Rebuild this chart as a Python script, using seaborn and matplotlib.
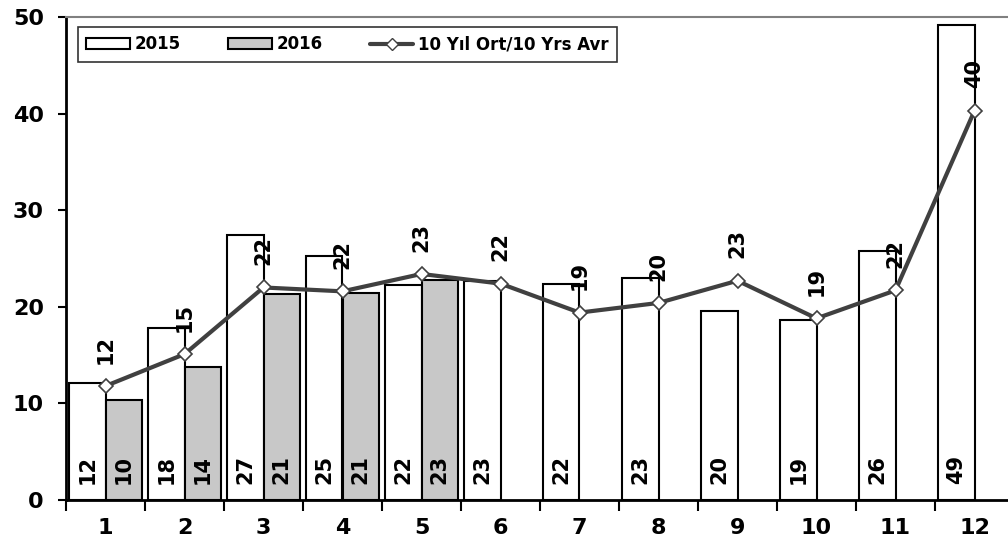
import numpy as np
import pandas as pd
import matplotlib
matplotlib.use("Agg")
import matplotlib.pyplot as plt
import seaborn as sns
from matplotlib.patches import Patch
from matplotlib.lines import Line2D

months = ["1", "2", "3", "4", "5", "6", "7", "8", "9", "10", "11", "12"]
y2015 = [12.1, 17.8, 27.4, 25.3, 22.3, 22.7, 22.4, 23.0, 19.6, 18.6, 25.8, 49.2]
y2016 = [10.4, 13.8, 21.3, 21.4, 22.8, np.nan, np.nan, np.nan, np.nan, np.nan, np.nan, np.nan]
avg10 = [11.8, 15.1, 22.0, 21.6, 23.4, 22.4, 19.4, 20.4, 22.7, 18.8, 21.7, 40.3]
series = ["2015", "2016"]
avg_label = "10 Yıl Ort/10 Yrs Avr"

df = pd.DataFrame({
    "month": months * 2,
    "value": y2015 + y2016,
    "year": [series[0]] * 12 + [series[1]] * 12,
})

sns.set_style("white")
plt.rcParams["font.family"] = ["DejaVu Sans"]
plt.rcParams["font.weight"] = "bold"
for k in ["text.color", "axes.labelcolor", "xtick.color", "ytick.color"]:
    plt.rcParams[k] = "black"

fig = plt.figure(figsize=(10.08, 5.48), dpi=100)
ax = fig.add_axes([66 / 1008, 48 / 548, 948 / 1008, 483 / 548])

sns.barplot(data=df, x="month", y="value", hue="year", order=months,
            hue_order=series, palette=["white", "#c8c8c8"], width=0.92,
            edgecolor="black", linewidth=1.5, saturation=1, legend=False, ax=ax)

xs = np.arange(len(months))
sns.lineplot(x=xs, y=avg10, color="#404040", linewidth=3, marker="D",
             markersize=7, markerfacecolor="white", markeredgecolor="#404040",
             markeredgewidth=1.2, ax=ax, zorder=5)

# labels inside bars, at the bottom
for cont in ax.containers:
    for p in cont:
        h = p.get_height()
        if np.isnan(h) or h == 0:
            continue
        ax.text(p.get_x() + p.get_width() / 2, 1.7, f"{h:.0f}", rotation=90,
                ha="center", va="bottom", fontsize=15, fontweight="bold", zorder=6)

# labels above the average line
for x, v in zip(xs, avg10):
    ax.annotate(f"{v:.0f}", (x, v), xytext=(0, 16), textcoords="offset points",
                rotation=90, ha="center", va="bottom", fontsize=15,
                fontweight="bold", zorder=6)

ax.set_xlim(-0.5, 11.5)
ax.set_ylim(0, 50)
ax.set_yticks(range(0, 51, 10))
ax.set_xlabel("")
ax.set_ylabel("")
ax.set_xticks(np.arange(-0.5, 12, 1), minor=True)
ax.tick_params(axis="x", which="major", length=0, pad=13, labelsize=16)
ax.tick_params(axis="x", which="minor", length=8, width=1.5, direction="out", bottom=True)
ax.tick_params(axis="y", length=6, width=1.5, direction="out", left=True,
               labelsize=16, pad=10)
for lbl in ax.get_xticklabels() + ax.get_yticklabels():
    lbl.set_fontweight("bold")

for s in ["left", "bottom"]:
    ax.spines[s].set_color("black")
    ax.spines[s].set_linewidth(2)
ax.spines["top"].set_color("#808080")
ax.spines["top"].set_linewidth(1.5)
ax.spines["right"].set_visible(False)

handles = [
    Patch(facecolor="white", edgecolor="black", linewidth=1.5),
    Patch(facecolor="#c8c8c8", edgecolor="black", linewidth=1.5),
    Line2D([0], [0], color="#404040", linewidth=3, marker="D", markersize=6,
           markerfacecolor="white", markeredgecolor="#404040"),
]
leg = ax.legend(handles, series + [avg_label], ncol=3, loc="upper left",
                bbox_to_anchor=(0.0127, 0.9065, 0.569, 0.0725), mode="expand",
                frameon=True, fancybox=False, edgecolor="black", handlelength=2.6,
                handleheight=0.6, handletextpad=0.3, numpoints=1, borderaxespad=0,
                borderpad=0.5, prop={"weight": "bold", "size": 12},
                columnspacing=1.0)
leg.get_frame().set_linewidth(1.2)

fig.savefig("out.png", dpi=100)
